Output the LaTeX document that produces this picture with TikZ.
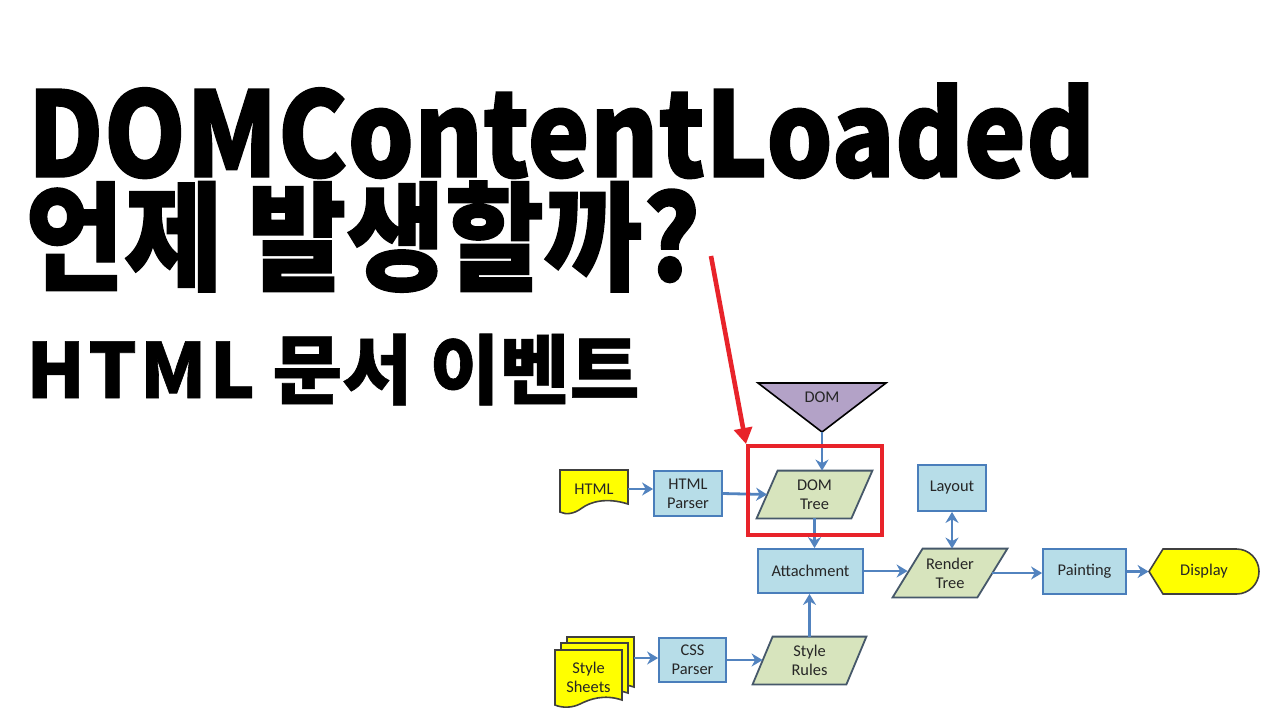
\documentclass[tikz,border=0pt]{standalone}
\usepackage{fontspec}
\setmainfont{Carlito}
\newfontfamily\krfont{Noto Sans CJK KR}
\newfontfamily\diagfont{Carlito}
\usetikzlibrary{arrows.meta,positioning,backgrounds}

\definecolor{boxfill}{HTML}{B7DDE8}
\definecolor{boxline}{HTML}{4A7EBB}
\definecolor{flowblue}{HTML}{5283BF}
\definecolor{datafill}{HTML}{D7E4BD}
\definecolor{dataline}{HTML}{46586A}
\definecolor{domfill}{HTML}{B3A2C7}
\definecolor{docyellow}{HTML}{FFFF00}
\definecolor{docline}{HTML}{404040}
\definecolor{hired}{HTML}{E8232A}
\definecolor{txt}{HTML}{262626}

% parallelogram behind a data node: #1 node, #2 half of the slant
\newcommand{\slantshape}[2]{%
  \filldraw[datashape] ([xshift=-#2]#1.south west) -- ([xshift=-#2]#1.south east)
    -- ([xshift=#2]#1.north east) -- ([xshift=#2]#1.north west) -- cycle;}
% one page of a document, top left corner at (#1,#2)
\newcommand{\sheet}[2]{%
  \filldraw[docshape] (#1,#2) -- ++(67,0) -- ++(0,50)
    .. controls ++(-18,-6) and ++(10,-5) .. ++(-42,4)
    .. controls ++(-8,4) and ++(7,3) .. ++(-25,1) -- cycle;}
\newcommand{\narrow}[2]{\scalebox{#1}[1]{#2}}

\begin{document}
\begin{tikzpicture}[
  x=0.5pt,y=-0.5pt,
  title/.style={anchor=base west, inner sep=0pt, font=\krfont\bfseries\addfontfeature{FakeBold=1.2}\fontsize{59}{59}\selectfont},
  subtitle/.style={anchor=base west, inner sep=0pt, font=\krfont\bfseries\addfontfeature{FakeBold=0.8}\fontsize{38}{38}\selectfont},
  procbox/.style={draw=boxline, fill=boxfill, line width=0.9pt, align=center, text=txt, inner sep=0pt, font=\diagfont\fontsize{8.2}{9.6}\selectfont},
  datanode/.style={align=center, text=txt, inner sep=0pt, font=\diagfont\fontsize{8.2}{9.6}\selectfont},
  datashape/.style={draw=dataline, fill=datafill, line width=0.9pt},
  docshape/.style={draw=docline, fill=docyellow, line width=0.8pt},
  flow/.style={draw=flowblue, line width=1.4pt, -{Stealth[length=5.5pt,width=6.5pt]}},
  pointer/.style={draw=hired, line width=2.3pt, -{Triangle[length=8pt,width=9pt]}}
]
\useasboundingbox (0,0) rectangle (1280,720);

% title
\node[title] (head) at (27,177) {\narrow{0.887}{DOMContentLoaded}};
\node[title] (question) at (25,281) {\narrow{0.91}{언제 발생할까?}};
\node[subtitle] (sub) at (26,398) {{\addfontfeature{LetterSpace=4}HTML} 문서 이벤트};

% boxes
\node[procbox, minimum width=34pt, minimum height=22.5pt] (hparser) at (688,493.5) {HTML\\Parser};
\node[procbox, minimum width=52.5pt, minimum height=22pt] (attach) at (810.5,571) {Attachment};
\node[procbox, minimum width=34pt, minimum height=23pt] (layout) at (952,488) {Layout};
\node[procbox, minimum width=41.5pt, minimum height=22.5pt] (paint) at (1084.5,571.5) {Painting};
\node[procbox, minimum width=33.5pt, minimum height=22pt] (cssparser) at (692.5,660) {CSS\\Parser};

% data
\node[datanode, minimum width=47pt, minimum height=23.5pt] (domtree) at (814.5,494.5) {DOM\\Tree};
\node[datanode, minimum width=42pt, minimum height=24pt] (rtree) at (950,573) {Render\\Tree};
\node[datanode, minimum width=46.5pt, minimum height=23.5pt] (srules) at (809.5,660.5) {Style\\Rules};
\node[datanode, minimum width=34pt, minimum height=19pt] (html) at (594,489) {HTML};
\node[datanode, minimum width=33.5pt, minimum height=25pt] (ssheets) at (588.5,677) {Style\\Sheets};
\node[datanode, minimum width=55pt, minimum height=22.5pt] (disp) at (1204,571.5) {Display};
\node[datanode] (dom) at (822,397) {DOM};
\coordinate (domtip) at (822,432);
\coordinate (sheetsback) at (634,658);
\coordinate (hint) at (711,256);

\begin{scope}[on background layer]
\fill[white] (0,0) rectangle (1280,720);
\slantshape{domtree}{5.25pt}
\slantshape{rtree}{7.5pt}
\slantshape{srules}{5pt}
\filldraw[draw=black, fill=domfill, line width=0.8pt] (758,383) -- (886,383) -- (domtip) -- cycle;
\filldraw[docshape] (560,470) -- (628,470) -- (628,504)
  .. controls (606,497) and (590,502) .. (582,508)
  .. controls (574,514) and (566,515) .. (560,512) -- cycle;
\sheet{567}{637}
\sheet{561}{643}
\sheet{555}{650}
\filldraw[docshape] (1149,571.5) -- (1163,549) -- (1236.5,549)
  arc[start angle=90, end angle=-90, radius=11.25pt] -- (1163,594) -- cycle;
\end{scope}

% connectors
\draw[flow] (html.east) -- (html.east -| hparser.west);
\draw[flow] (hparser.east) -- (domtree.west);
\draw[flow] (domtip) -- (domtip |- domtree.north);
\draw[flow] (domtree.south) -- (domtree.south |- attach.north);
\draw[flow] (attach.east) -- (attach.east -| rtree.west);
\draw[flow, {Stealth[length=5.5pt,width=6.5pt]}-{Stealth[length=5.5pt,width=6.5pt]}] (layout.south) -- (layout.south |- rtree.north);
\draw[flow] (rtree.east) -- (rtree.east -| paint.west);
\draw[flow] (paint.east) -- (disp.west);
\draw[flow] (sheetsback) -- (sheetsback -| cssparser.west);
\draw[flow] (cssparser.east) -- (cssparser.east -| srules.west);
\draw[flow] (srules.north) -- (srules.north |- attach.south);

% highlight
\node[draw=hired, line width=2pt, minimum width=67pt, minimum height=44.5pt] (hilite) at (815,490.5) {};
\draw[pointer] (hint) -- (hilite.north west);
\end{tikzpicture}
\end{document}
